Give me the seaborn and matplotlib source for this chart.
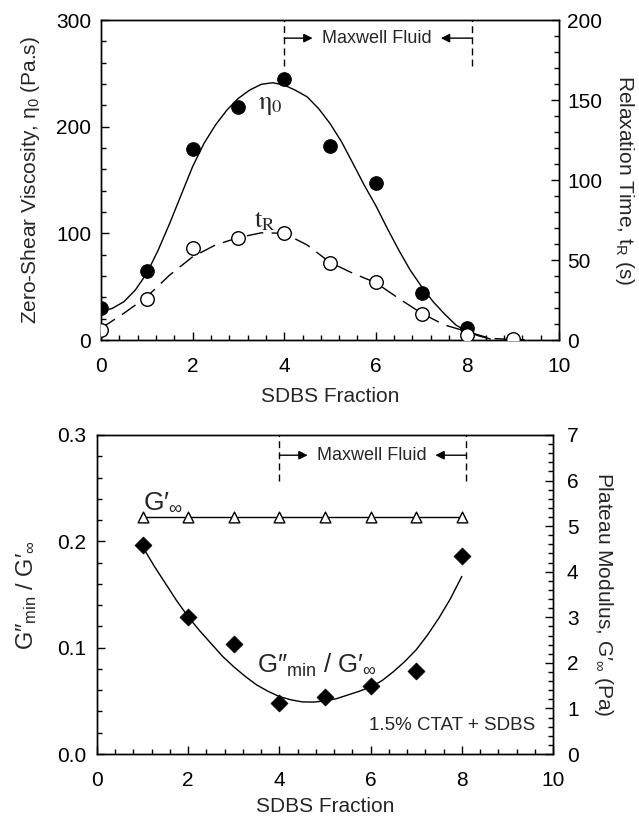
import matplotlib
matplotlib.use("Agg")
import matplotlib.pyplot as plt
import seaborn as sns
import numpy as np
import pandas as pd
from matplotlib.ticker import MultipleLocator, FormatStrFormatter

# ---------------- data ----------------
sdbs_eta = [0, 1, 2, 3, 4, 5, 6, 7, 8]
eta0 = [30, 65, 179, 218, 245, 182, 147, 44, 11]

sdbs_tr = [0, 1, 2, 3, 4, 5, 6, 7, 8, 9]
t_relax = [6.3, 25.6, 57.5, 64, 67, 48, 36, 16, 3, 0.5]

fit_eta_x = [0, 0.25, 0.5, 0.75, 1, 1.25, 1.5, 1.75, 2, 2.25, 2.5, 2.75, 3, 3.25,
             3.5, 3.75, 4, 4.25, 4.5, 4.75, 5, 5.25, 5.5, 5.75, 6, 6.25, 6.5,
             6.75, 7, 7.25, 7.5, 7.75, 8, 8.25, 8.5]
fit_eta_y = [26.6, 29.7, 35.9, 46.9, 62.5, 84.4, 109.4, 136, 162.5, 184.4, 201.6,
             215.6, 226.6, 234.4, 239.7, 241.2, 239, 234, 228, 217, 203, 186,
             165.6, 145, 126, 104.7, 84.4, 65.6, 50, 36, 24.4, 14, 7.8, 3.8, 1]

fit_tr_x = [0, 0.5, 1, 1.5, 2, 2.5, 3, 3.5, 4, 4.5, 5, 5.5, 6, 6.5, 7, 7.5, 8,
            8.5, 9, 9.25]
fit_tr_y = [7.3, 16.7, 27, 40.6, 52, 59.4, 64, 67, 66.7, 59.4, 48.5, 41.7, 35.8,
            26, 16.7, 9.4, 5.2, 1.0, 0.3, 0.2]

sdbs_g = [1, 2, 3, 4, 5, 6, 7, 8]
g_plateau = [5.2, 5.2, 5.2, 5.2, 5.2, 5.2, 5.2, 5.2]
g_ratio = [0.197, 0.129, 0.103, 0.048, 0.054, 0.064, 0.078, 0.186]

fit_g_x = [1, 1.25, 1.5, 1.75, 2, 2.25, 2.5, 2.75, 3, 3.25, 3.5, 3.75, 4, 4.25,
           4.5, 4.75, 5, 5.25, 5.5, 5.75, 6, 6.25, 6.5, 6.75, 7, 7.25, 7.5,
           7.75, 8]
fit_g_y = [0.195, 0.177, 0.1605, 0.144, 0.129, 0.116, 0.104, 0.092, 0.082, 0.073,
           0.065, 0.059, 0.054, 0.051, 0.049, 0.0488, 0.050, 0.052, 0.0555, 0.059,
           0.063, 0.069, 0.0774, 0.087, 0.098, 0.112, 0.128, 0.146, 0.167]

maxwell_start = 4.0
maxwell_end = 8.1
x_ticks = [0, 2, 4, 6, 8, 10]

# ---------------- style ----------------
sns.set_style("ticks")
plt.rcParams['font.family'] = ['Liberation Sans', 'DejaVu Sans']
plt.rcParams['mathtext.fontset'] = 'custom'
plt.rcParams['mathtext.rm'] = 'Liberation Sans'
plt.rcParams['mathtext.it'] = 'Liberation Sans:italic'
plt.rcParams['mathtext.bf'] = 'Liberation Sans:bold'
plt.rcParams['axes.linewidth'] = 1.0

TICK_FS = 15
LABEL_FS = 15
NOTE_FS = 13

fig = plt.figure(figsize=(6.39, 8.19), dpi=100)
W, H = 639, 819
def rect(l, t, r, b):
    return [l / W, 1 - b / H, (r - l) / W, (b - t) / H]

ax1 = fig.add_axes(rect(101, 20, 559, 340))
ax1r = ax1.twinx()
ax2 = fig.add_axes(rect(97, 435, 553, 754))
ax2r = ax2.twinx()

def style_axis(ax, side, ypad, xpad=12):
    ax.tick_params(axis='both', which='both', direction='in', colors='black',
                   labelsize=TICK_FS)
    ax.tick_params(which='major', length=6, width=1)
    ax.tick_params(which='minor', length=3.5, width=1)
    ax.tick_params(axis='x', pad=xpad, top=False)
    if side == 'left':
        ax.tick_params(axis='y', left=True, right=False, pad=ypad, which='both')
    else:
        ax.tick_params(axis='y', left=False, right=True, pad=ypad, which='both')
    for s in ax.spines.values():
        s.set_visible(True)
        s.set_color('black')
        s.set_linewidth(1.0)

# ---------------- top panel ----------------
sns.lineplot(x=fit_eta_x, y=fit_eta_y, ax=ax1, color='black', linewidth=1.0, zorder=2)
sns.scatterplot(x=sdbs_eta, y=eta0, ax=ax1, marker='o', s=95, color='black',
                edgecolor='black', linewidth=0.8, zorder=3)

sns.lineplot(x=fit_tr_x, y=fit_tr_y, ax=ax1r, color='black', linewidth=1.0,
             linestyle=(0, (12, 6)), zorder=2)
sns.scatterplot(x=sdbs_tr, y=t_relax, ax=ax1r, marker='o', s=95, color='white',
                edgecolor='black', linewidth=1.0, zorder=3)

ax1.set_xlim(0, 10)
ax1.set_ylim(0, 300)
ax1r.set_ylim(0, 200)
ax1.set_xticks(x_ticks)
ax1.xaxis.set_minor_locator(MultipleLocator(0.4))
ax1.yaxis.set_major_locator(MultipleLocator(100))
ax1.yaxis.set_minor_locator(MultipleLocator(20))
ax1r.yaxis.set_major_locator(MultipleLocator(50))
ax1r.yaxis.set_minor_locator(MultipleLocator(10))
style_axis(ax1, 'left', 7)
style_axis(ax1r, 'right', 6)
ax1r.tick_params(axis='x', bottom=False, labelbottom=False)

ax1.set_xlabel("SDBS Fraction", fontsize=LABEL_FS, labelpad=8)
ax1.set_ylabel("Zero-Shear Viscosity, η$_0$ (Pa.s)", fontsize=LABEL_FS, labelpad=10)
ax1r.set_ylabel("Relaxation Time, t$_\\mathrm{R}$ (s)", fontsize=LABEL_FS,
                rotation=-90, labelpad=24)

ax1.text(3.42, 220, r"$\mathrm{η}_0$", fontsize=19, math_fontfamily='stix',
         ha='left', va='center')
ax1.text(3.35, 112, r"$\mathrm{t}_\mathrm{R}$", fontsize=19, math_fontfamily='stix',
         ha='left', va='center')

def maxwell(ax, top, bottom, yarrow, tip_left, tip_right, textx):
    for xv in (maxwell_start, maxwell_end):
        ax.plot([xv, xv], [bottom, top], color='black', linewidth=1.0,
                linestyle=(0, (5, 3)), zorder=1)
    ap = dict(arrowstyle='-|>', color='black', lw=1.0, mutation_scale=13,
              shrinkA=0, shrinkB=0)
    ax.annotate('', xy=(tip_left, yarrow), xytext=(maxwell_start, yarrow), arrowprops=ap)
    ax.annotate('', xy=(tip_right, yarrow), xytext=(maxwell_end, yarrow), arrowprops=ap)
    ax.text(textx, yarrow, "Maxwell Fluid", fontsize=NOTE_FS, ha='left', va='center')

maxwell(ax1, 300, 257, 283, 4.62, 7.42, 4.82)

# ---------------- bottom panel ----------------
sns.lineplot(x=sdbs_g, y=g_plateau, ax=ax2r, color='black', linewidth=1.0, zorder=2)
sns.scatterplot(x=sdbs_g, y=g_plateau, ax=ax2r, marker='^', s=60, color='white',
                edgecolor='black', linewidth=1.0, zorder=3)

sns.lineplot(x=fit_g_x, y=fit_g_y, ax=ax2, color='black', linewidth=1.0, zorder=2)
sns.scatterplot(x=sdbs_g, y=g_ratio, ax=ax2, marker='D', s=75, color='black',
                edgecolor='black', linewidth=0.5, zorder=3)

ax2.set_xlim(0, 10)
ax2.set_ylim(0, 0.3)
ax2r.set_ylim(0, 7)
ax2.set_xticks(x_ticks)
ax2.xaxis.set_minor_locator(MultipleLocator(0.4))
ax2.yaxis.set_major_locator(MultipleLocator(0.1))
ax2.yaxis.set_minor_locator(MultipleLocator(0.02))
ax2.yaxis.set_major_formatter(FormatStrFormatter('%.1f'))
ax2r.yaxis.set_major_locator(MultipleLocator(1))
ax2r.yaxis.set_minor_locator(MultipleLocator(0.2))
style_axis(ax2, 'left', 8)
style_axis(ax2r, 'right', 10)
ax2r.tick_params(axis='x', bottom=False, labelbottom=False)

ax2.set_xlabel("SDBS Fraction", fontsize=LABEL_FS, labelpad=5)
ax2.set_ylabel("G″$_\\mathrm{min}$ / G′$_\\infty$", fontsize=17, labelpad=13)
ax2r.set_ylabel("Plateau Modulus, G′$_\\infty$ (Pa)", fontsize=LABEL_FS,
                rotation=-90, labelpad=26)

ax2.text(1.0, 0.237, "G′$_\\infty$", fontsize=19, ha='left', va='center')
ax2.text(3.5, 0.083, "G″$_\\mathrm{min}$ / G′$_\\infty$", fontsize=18.5,
         ha='left', va='center')
ax2.text(9.6, 0.027, "1.5% CTAT + SDBS", fontsize=13.5, ha='right', va='center')

maxwell(ax2, 0.3, 0.257, 0.281, 4.62, 7.42, 4.82)

fig.savefig("out.png", dpi=100)
